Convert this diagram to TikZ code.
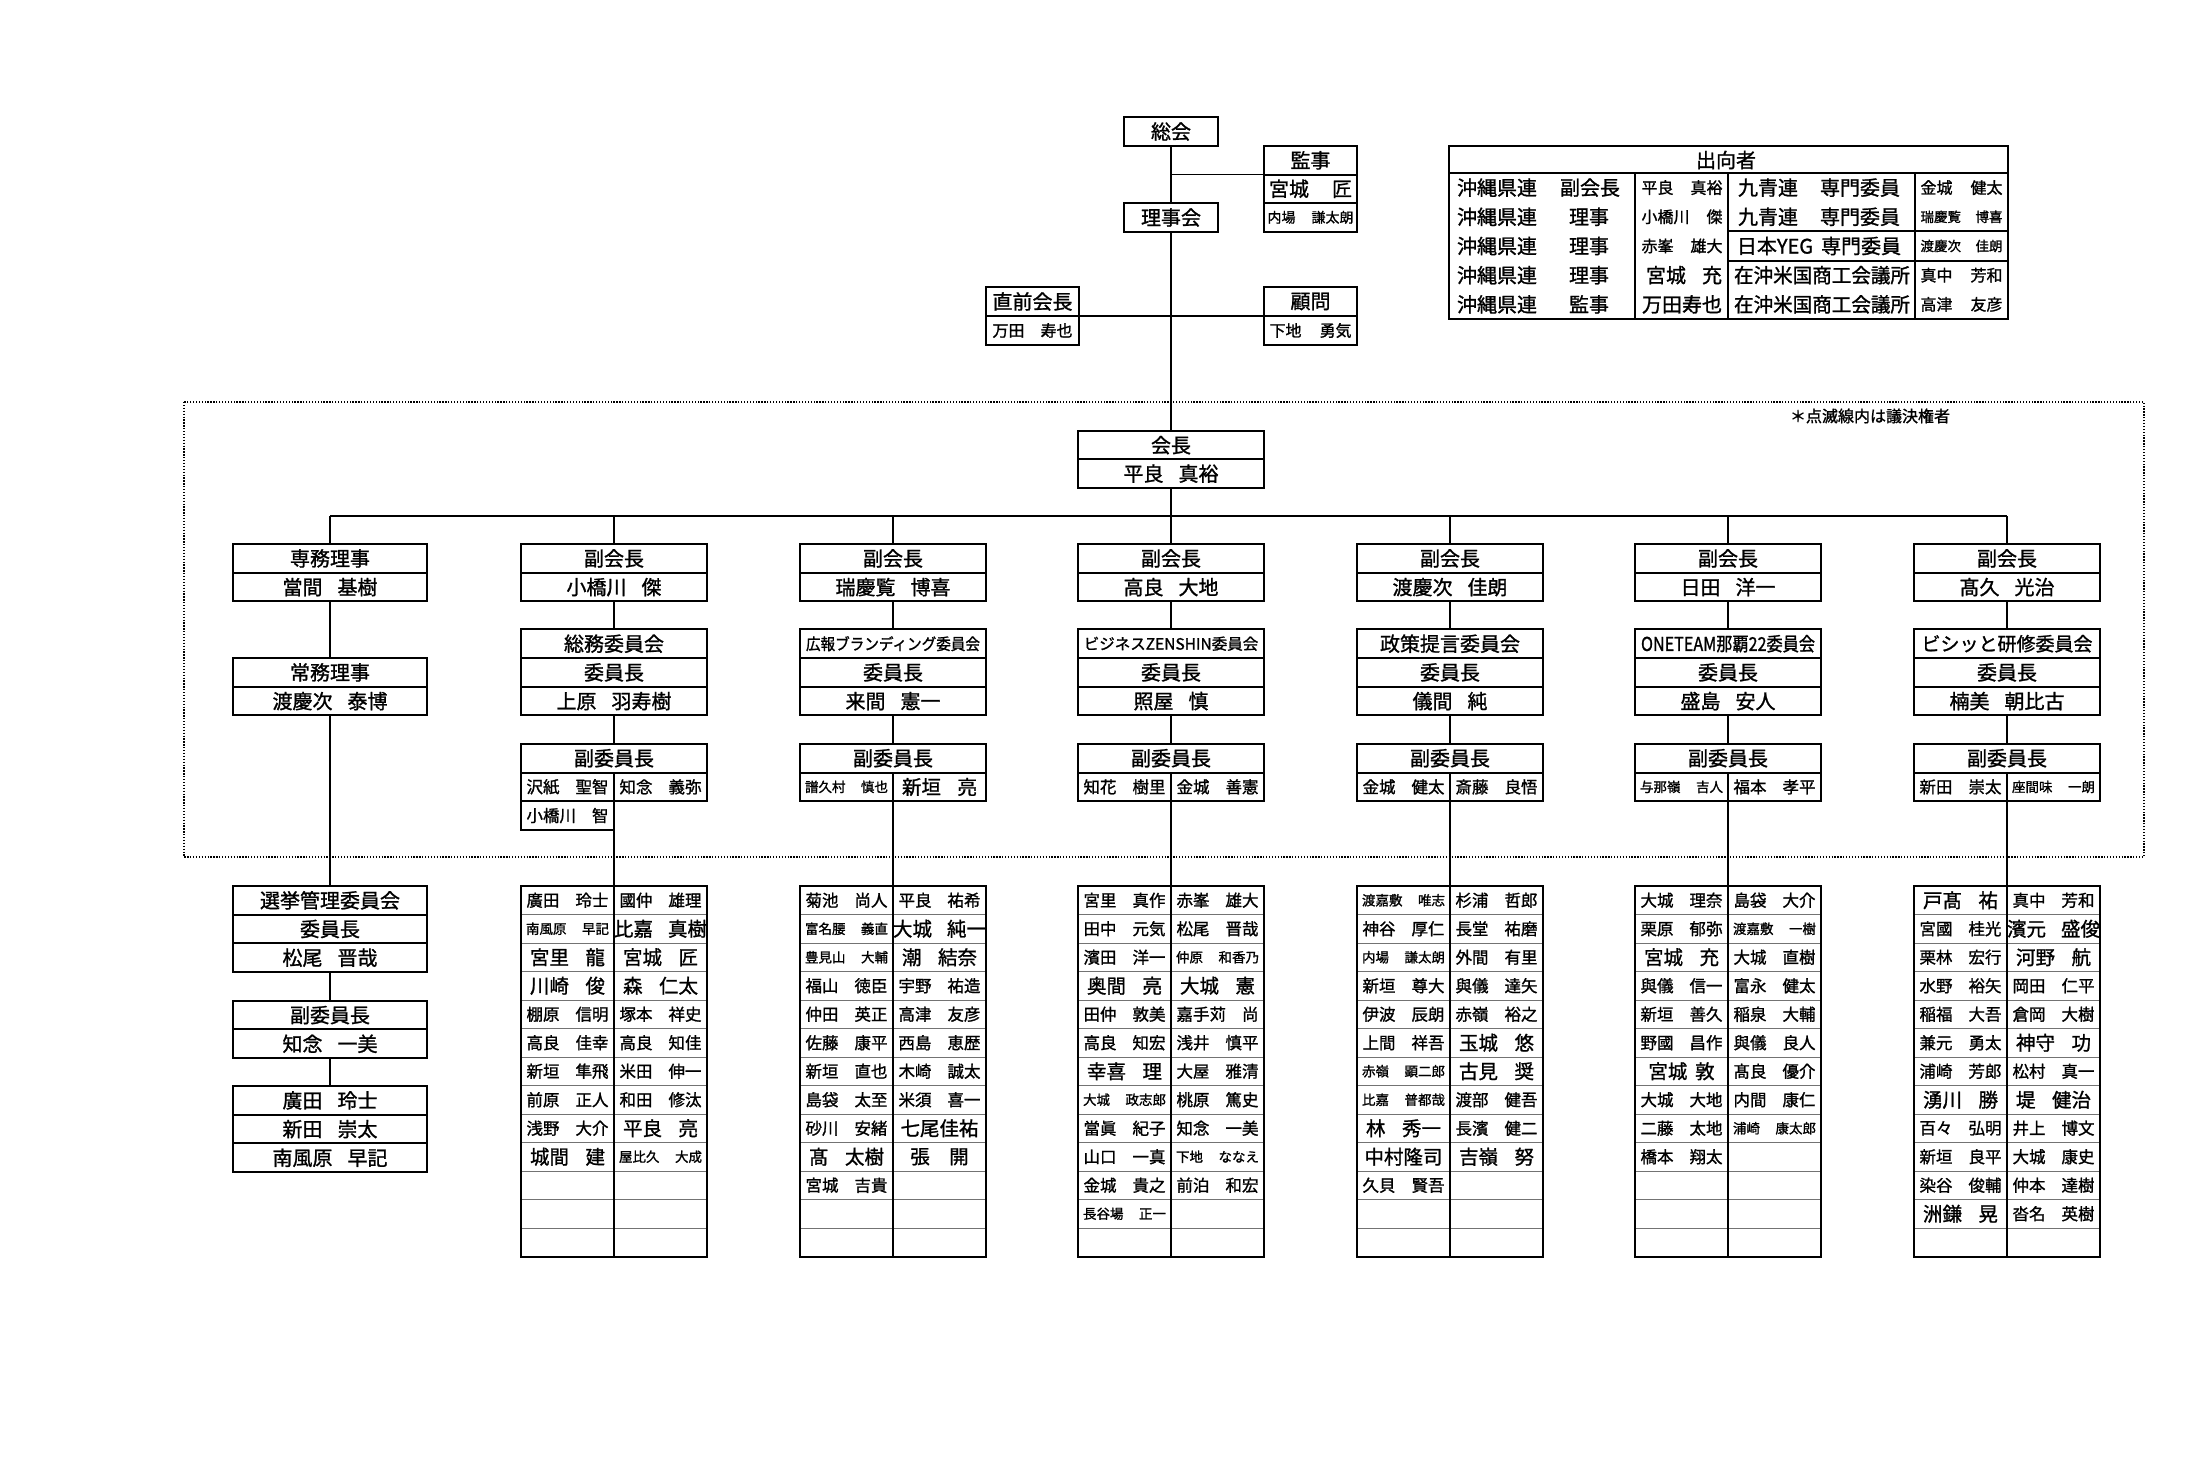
\documentclass[tikz,border=0pt]{standalone}
\usepackage{fontspec}
\setmainfont{Noto Sans CJK JP}[RawFeature={embolden=1.2}]
\usepackage{graphicx}
\newcommand\fsz[1]{\fontsize{#1}{#1}\selectfont}
\newlength\fitl
\newcommand\fitto[2]{\settowidth\fitl{#2}\ifdim\fitl>#1\relax\pgfmathsetmacro\fitr{#1/\fitl}\scalebox{\fitr}[1]{#2}\else #2\fi}
\newcommand\jsp{\hspace{0.75em}}
\newcommand\mS[2]{{\fsz{13.5}\makebox[83pt]{#1\hfill#2}}}
\newcommand\mN[2]{{\fsz{16.5}\makebox[82pt]{#1\hfill#2}}}
\newcommand\mL[2]{{\fsz{19.5}\makebox[75pt]{#1\hfill#2}}}
\newcommand\mX[2]{{\fsz{19.5}\makebox[93pt]{#1\hfill#2}}}
\newcommand\mC[1]{{\fsz{19.5}#1}}
\tikzset{
 bx/.style={draw, line width=2pt, minimum height=28.7pt, inner sep=0pt, outer sep=0pt, font=\fsz{20}},
 w186/.style={minimum width=186pt},
 w93/.style={minimum width=93pt},
 w194/.style={minimum width=194pt},
 conn/.style={line width=1.7pt},
 mcell/.style={draw=black!55, line width=1pt, minimum width=93pt, minimum height=28.5pt, inner sep=0pt, outer sep=0pt},
 tbl/.style={line width=2pt},
 txt/.style={inner sep=0pt, outer sep=0pt},
}
\newcommand\mtable[2]{%
 \foreach \rr in {1,...,13}{%
   \node[mcell] (m#1-\rr-L) at ({#2-46.5},{886+28.5*(\rr-0.5)}) {};
   \node[mcell] (m#1-\rr-R) at ({#2+46.5},{886+28.5*(\rr-0.5)}) {};
 }
 \draw[tbl] (m#1-1-L.north west) rectangle (m#1-13-R.south east);
 \draw[tbl] (m#1-1-L.north east) -- (m#1-13-L.south east);
}
\newcommand\mt[4]{\node[txt] (t#1-#2-#3) at (m#1-#2-#3) {#4};}
\newcommand\vpcol[7]{%
 \node[bx,w186] (v#1A) at (#2,558.4) {副会長};
 \node[bx,w186] (v#1B) at (#2,587.1) {#3};
 \node[bx,w186] (c#1A) at (#2,643.7) {#4};
 \node[bx,w186] (c#1B) at (#2,672.4) {委員長};
 \node[bx,w186] (c#1C) at (#2,701.1) {#5};
 \node[bx,w186] (d#1A) at (#2,758.2) {副委員長};
 \node[bx,w93] (d#1L) at ({#2-46.5},786.9) {#6};
 \node[bx,w93] (d#1R) at ({#2+46.5},786.9) {#7};
 \draw[conn] (v#1A.north) -- (v#1A.north |- bus);
 \draw[conn] (v#1B.south) -- (c#1A.north);
 \draw[conn] (c#1C.south) -- (d#1A.north);
 \mtable{#1}{#2}
 \draw[conn] (d#1L.south east) -- (m#1-1-L.north east);
}
\begin{document}
\begin{tikzpicture}[x=1pt,y=-1pt]
\fill[white] (0,0) rectangle (2192,1464);
\useasboundingbox (0,0) rectangle (2192,1464);

% ---------- top ----------
\node[bx, minimum width=94pt, minimum height=29pt] (sokai) at (1171,131.5) {総会};
\node[bx, minimum width=94pt, minimum height=29pt] (riji) at (1171,217.5) {理事会};
\node[bx, w93, minimum height=28.5pt] (kanA) at (1310.5,160.3) {監事};
\node[bx, w93, minimum height=28.5pt] (kanB) at (1310.5,188.8) {\makebox[83pt]{宮城\hfill 匠}};
\node[bx, w93, minimum height=28.5pt] (kanC) at (1310.5,217.3) {\fsz{14}\makebox[86pt]{内場\hfill 謙太朗}};
\node[bx, w93, minimum height=29pt] (zenA) at (1032.5,301.5) {直前会長};
\node[bx, w93, minimum height=29pt] (zenB) at (1032.5,330.5) {\fsz{16}\makebox[80pt]{万田\hfill 寿也}};
\node[bx, w93, minimum height=29pt] (komA) at (1310.5,301.5) {顧問};
\node[bx, w93, minimum height=29pt] (komB) at (1310.5,330.5) {\fsz{16}\makebox[82pt]{下地\hfill 勇気}};
\draw[conn] (sokai.south) -- (riji.north);
\draw[conn] (kanA.south west) -- (kanA.south west -| sokai.south);
\draw[conn] (zenA.south east) -- (komA.south west);

% ---------- 出向者 ----------
\draw[tbl] (1449,146) rectangle (2008,319);
\draw[tbl] (1449,173) -- (2008,173);
\draw[tbl] (1635,173) -- (1635,319);
\draw[tbl] (1728,173) -- (1728,319);
\draw[tbl] (1915,173) -- (1915,319);
\draw[tbl] (1728,231.4) -- (2008,231.4);
\draw[tbl] (1728,260.6) -- (2008,260.6);
\node[txt] (shk) at (1726,160) {\fsz{20}出向者};
\foreach \rr/\yy in {1/187.6,2/216.8,3/246.0,4/275.2,5/304.4}{
  \node[txt, anchor=west] (ok\rr) at (1457,\yy) {\fsz{20}沖縄県連};
}
\node[txt] (ro1) at (1590,187.6) {\fsz{20}副会長};
\node[txt] (ro2) at (1589,216.8) {\fsz{20}理事};
\node[txt] (ro3) at (1589,246.0) {\fsz{20}理事};
\node[txt] (ro4) at (1589,275.2) {\fsz{20}理事};
\node[txt] (ro5) at (1589,304.4) {\fsz{20}監事};
\node[txt] (sn1) at (1682,187.6) {\fsz{16}\makebox[81pt]{平良\hfill 真裕}};
\node[txt] (sn2) at (1682,216.8) {\fsz{16}\makebox[81pt]{小橋川\hfill 傑}};
\node[txt] (sn3) at (1682,246.0) {\fsz{16}\makebox[81pt]{赤峯\hfill 雄大}};
\node[txt] (sn4) at (1684,275.2) {\fsz{20}\makebox[76pt]{宮城\hfill 充}};
\node[txt] (sn5) at (1682,304.4) {\fsz{20}万田寿也};
\node[txt] (so1) at (1819,187.6) {\fsz{20}\fitto{166pt}{九青連\hspace{1.1em}専門委員}};
\node[txt] (so2) at (1819,216.8) {\fsz{20}\fitto{166pt}{九青連\hspace{1.1em}専門委員}};
\node[txt] (so3) at (1819,246.0) {\fsz{20}\fitto{168pt}{日本YEG\hspace{0.4em}専門委員}};
\node[txt] (so4) at (1822,275.2) {\fsz{20}\fitto{176pt}{在沖米国商工会議所}};
\node[txt] (so5) at (1822,304.4) {\fsz{20}\fitto{176pt}{在沖米国商工会議所}};
\node[txt] (sp1) at (1961.5,187.6) {\fsz{16}\makebox[82pt]{金城\hfill 健太}};
\node[txt] (sp2) at (1961.5,216.8) {\fsz{13.5}\makebox[82pt]{瑞慶覧\hfill 博喜}};
\node[txt] (sp3) at (1961.5,246.0) {\fsz{13.5}\makebox[82pt]{渡慶次\hfill 佳朗}};
\node[txt] (sp4) at (1961.5,275.2) {\fsz{16}\makebox[82pt]{真中\hfill 芳和}};
\node[txt] (sp5) at (1961.5,304.4) {\fsz{16}\makebox[82pt]{高津\hfill 友彦}};

% ---------- dotted frame ----------
\draw[line width=1.2pt, dash pattern=on 1.3pt off 1.6pt] (184,402) rectangle (2144,857);
\node[txt] (note) at (1870,416) {\fsz{16}\fitto{171pt}{＊点滅線内は議決権者}};

% ---------- 会長 ----------
\node[bx, w186, minimum height=28.4pt] (kaiA) at (1171,445.2) {会長};
\node[bx, w186, minimum height=28.4pt] (kaiB) at (1171,473.6) {平良\jsp 真裕};
\coordinate (bus) at (1171,516);
\draw[conn] (riji.south) -- (kaiA.north);
\draw[conn] (kaiB.south) -- (bus);

% ---------- column 0 ----------
\node[bx,w194] (v0A) at (330,558.4) {専務理事};
\node[bx,w194] (v0B) at (330,587.1) {當間\jsp 基樹};
\node[bx,w194] (j0A) at (330,672.4) {常務理事};
\node[bx,w194] (j0B) at (330,701.1) {渡慶次\jsp 泰博};
\node[bx,w194] (e0A) at (330,900.3) {選挙管理委員会};
\node[bx,w194] (e0B) at (330,929.0) {委員長};
\node[bx,w194] (e0C) at (330,957.7) {松尾\jsp 晋哉};
\node[bx,w194] (f0A) at (330,1015.1) {副委員長};
\node[bx,w194] (f0B) at (330,1043.8) {知念\jsp 一美};
\node[bx,w194] (g1) at (330,1100.4) {廣田\jsp 玲士};
\node[bx,w194] (g2) at (330,1129.1) {新田\jsp 崇太};
\node[bx,w194] (g3) at (330,1157.8) {南風原\jsp 早記};
\draw[conn] (v0A.north) -- (v0A.north |- bus);
\draw[conn] (v0B.south) -- (j0A.north);
\draw[conn] (j0B.south) -- (e0A.north);
\draw[conn] (e0C.south) -- (f0A.north);
\draw[conn] (f0B.south) -- (g1.north);

% ---------- columns 1-6 ----------
\vpcol{1}{614}{小橋川\jsp 傑}{総務委員会}{上原\jsp 羽寿樹}{\mN{沢紙}{聖智}}{\mN{知念}{義弥}}
\node[bx,w93] (d1X) at (567.5,815.6) {\mN{小橋川}{智}};
\vpcol{2}{893}{瑞慶覧\jsp 博喜}{\fsz{16}\fitto{174pt}{広報ブランディング委員会}}{来間\jsp 憲一}{\mS{譜久村}{慎也}}{\mL{新垣}{亮}}
\vpcol{3}{1171}{高良\jsp 大地}{\fsz{15.5}\fitto{176pt}{ビジネスZENSHIN委員会}}{照屋\jsp 慎}{\mN{知花}{樹里}}{\mN{金城}{善憲}}
\vpcol{4}{1450}{渡慶次\jsp 佳朗}{政策提言委員会}{儀間\jsp 純}{\mN{金城}{健太}}{\mN{斎藤}{良悟}}
\vpcol{5}{1728}{日田\jsp 洋一}{\fsz{19}\fitto{174pt}{ONETEAM那覇22委員会}}{盛島\jsp 安人}{\mS{与那嶺}{吉人}}{\mN{福本}{孝平}}
\vpcol{6}{2007}{髙久\jsp 光治}{\fsz{19}ビシッと研修委員会}{楠美\jsp 朝比古}{\mN{新田}{崇太}}{\mS{座間味}{一朗}}
\draw[conn] (v0A.north |- bus) -- (v6A.north |- bus);

% ---------- members col 1 ----------
\mt{1}{1}{L}{\mN{廣田}{玲士}}   \mt{1}{1}{R}{\mN{國仲}{雄理}}
\mt{1}{2}{L}{\mS{南風原}{早記}} \mt{1}{2}{R}{\mX{比嘉}{真樹}}
\mt{1}{3}{L}{\mL{宮里}{龍}}     \mt{1}{3}{R}{\mL{宮城}{匠}}
\mt{1}{4}{L}{\mL{川崎}{俊}}     \mt{1}{4}{R}{\mL{森}{仁太}}
\mt{1}{5}{L}{\mN{棚原}{信明}}   \mt{1}{5}{R}{\mN{塚本}{祥史}}
\mt{1}{6}{L}{\mN{高良}{佳幸}}   \mt{1}{6}{R}{\mN{高良}{知佳}}
\mt{1}{7}{L}{\mN{新垣}{隼飛}}   \mt{1}{7}{R}{\mN{米田}{伸一}}
\mt{1}{8}{L}{\mN{前原}{正人}}   \mt{1}{8}{R}{\mN{和田}{修汰}}
\mt{1}{9}{L}{\mN{浅野}{大介}}   \mt{1}{9}{R}{\mL{平良}{亮}}
\mt{1}{10}{L}{\mL{城間}{建}}    \mt{1}{10}{R}{\mS{屋比久}{大成}}
% ---------- members col 2 ----------
\mt{2}{1}{L}{\mN{菊池}{尚人}}   \mt{2}{1}{R}{\mN{平良}{祐希}}
\mt{2}{2}{L}{\mS{富名腰}{義直}} \mt{2}{2}{R}{\mX{大城}{純一}}
\mt{2}{3}{L}{\mS{豊見山}{大輔}} \mt{2}{3}{R}{\mL{潮}{結奈}}
\mt{2}{4}{L}{\mN{福山}{徳臣}}   \mt{2}{4}{R}{\mN{宇野}{祐造}}
\mt{2}{5}{L}{\mN{仲田}{英正}}   \mt{2}{5}{R}{\mN{高津}{友彦}}
\mt{2}{6}{L}{\mN{佐藤}{康平}}   \mt{2}{6}{R}{\mN{西島}{恵歴}}
\mt{2}{7}{L}{\mN{新垣}{直也}}   \mt{2}{7}{R}{\mN{木崎}{誠太}}
\mt{2}{8}{L}{\mN{島袋}{太至}}   \mt{2}{8}{R}{\mN{米須}{喜一}}
\mt{2}{9}{L}{\mN{砂川}{安緒}}   \mt{2}{9}{R}{\mC{七尾佳祐}}
\mt{2}{10}{L}{\mL{髙}{太樹}}    \mt{2}{10}{R}{\mC{張\hspace{1em}開}}
\mt{2}{11}{L}{\mN{宮城}{吉貴}}
% ---------- members col 3 ----------
\mt{3}{1}{L}{\mN{宮里}{真作}}   \mt{3}{1}{R}{\mN{赤峯}{雄大}}
\mt{3}{2}{L}{\mN{田中}{元気}}   \mt{3}{2}{R}{\mN{松尾}{晋哉}}
\mt{3}{3}{L}{\mN{濱田}{洋一}}   \mt{3}{3}{R}{\mS{仲原}{和香乃}}
\mt{3}{4}{L}{\mL{奥間}{亮}}     \mt{3}{4}{R}{\mL{大城}{憲}}
\mt{3}{5}{L}{\mN{田仲}{敦美}}   \mt{3}{5}{R}{\mN{嘉手苅}{尚}}
\mt{3}{6}{L}{\mN{高良}{知宏}}   \mt{3}{6}{R}{\mN{浅井}{慎平}}
\mt{3}{7}{L}{\mL{幸喜}{理}}     \mt{3}{7}{R}{\mN{大屋}{雅清}}
\mt{3}{8}{L}{\mS{大城}{政志郎}} \mt{3}{8}{R}{\mN{桃原}{篤史}}
\mt{3}{9}{L}{\mN{當眞}{紀子}}   \mt{3}{9}{R}{\mN{知念}{一美}}
\mt{3}{10}{L}{\mN{山口}{一真}}  \mt{3}{10}{R}{\mS{下地}{ななえ}}
\mt{3}{11}{L}{\mN{金城}{貴之}}  \mt{3}{11}{R}{\mN{前泊}{和宏}}
\mt{3}{12}{L}{\mS{長谷場}{正一}}
% ---------- members col 4 ----------
\mt{4}{1}{L}{\mS{渡嘉敷}{唯志}} \mt{4}{1}{R}{\mN{杉浦}{哲郎}}
\mt{4}{2}{L}{\mN{神谷}{厚仁}}   \mt{4}{2}{R}{\mN{長堂}{祐磨}}
\mt{4}{3}{L}{\mS{内場}{謙太朗}} \mt{4}{3}{R}{\mN{外間}{有里}}
\mt{4}{4}{L}{\mN{新垣}{尊大}}   \mt{4}{4}{R}{\mN{與儀}{達矢}}
\mt{4}{5}{L}{\mN{伊波}{辰朗}}   \mt{4}{5}{R}{\mN{赤嶺}{裕之}}
\mt{4}{6}{L}{\mN{上間}{祥吾}}   \mt{4}{6}{R}{\mL{玉城}{悠}}
\mt{4}{7}{L}{\mS{赤嶺}{顕二郎}} \mt{4}{7}{R}{\mL{古見}{奨}}
\mt{4}{8}{L}{\mS{比嘉}{普都哉}} \mt{4}{8}{R}{\mN{渡部}{健吾}}
\mt{4}{9}{L}{\mL{林}{秀一}}     \mt{4}{9}{R}{\mN{長濱}{健二}}
\mt{4}{10}{L}{\mC{中村隆司}}    \mt{4}{10}{R}{\mL{吉嶺}{努}}
\mt{4}{11}{L}{\mN{久貝}{賢吾}}
% ---------- members col 5 ----------
\mt{5}{1}{L}{\mN{大城}{理奈}}   \mt{5}{1}{R}{\mN{島袋}{大介}}
\mt{5}{2}{L}{\mN{栗原}{郁弥}}   \mt{5}{2}{R}{\mS{渡嘉敷}{一樹}}
\mt{5}{3}{L}{\mL{宮城}{充}}     \mt{5}{3}{R}{\mN{大城}{直樹}}
\mt{5}{4}{L}{\mN{與儀}{信一}}   \mt{5}{4}{R}{\mN{富永}{健太}}
\mt{5}{5}{L}{\mN{新垣}{善久}}   \mt{5}{5}{R}{\mN{稲泉}{大輔}}
\mt{5}{6}{L}{\mN{野國}{昌作}}   \mt{5}{6}{R}{\mN{與儀}{良人}}
\mt{5}{7}{L}{\mC{宮城\hspace{0.4em}敦}} \mt{5}{7}{R}{\mN{髙良}{優介}}
\mt{5}{8}{L}{\mN{大城}{大地}}   \mt{5}{8}{R}{\mN{内間}{康仁}}
\mt{5}{9}{L}{\mN{二藤}{太地}}   \mt{5}{9}{R}{\mS{浦崎}{康太郎}}
\mt{5}{10}{L}{\mN{橋本}{翔太}}
% ---------- members col 6 ----------
\mt{6}{1}{L}{\mL{戸髙}{祐}}     \mt{6}{1}{R}{\mN{真中}{芳和}}
\mt{6}{2}{L}{\mN{宮國}{桂光}}   \mt{6}{2}{R}{\mX{濱元}{盛俊}}
\mt{6}{3}{L}{\mN{栗林}{宏行}}   \mt{6}{3}{R}{\mL{河野}{航}}
\mt{6}{4}{L}{\mN{水野}{裕矢}}   \mt{6}{4}{R}{\mN{岡田}{仁平}}
\mt{6}{5}{L}{\mN{稲福}{大吾}}   \mt{6}{5}{R}{\mN{倉岡}{大樹}}
\mt{6}{6}{L}{\mN{兼元}{勇太}}   \mt{6}{6}{R}{\mL{神守}{功}}
\mt{6}{7}{L}{\mN{浦崎}{芳郎}}   \mt{6}{7}{R}{\mN{松村}{真一}}
\mt{6}{8}{L}{\mL{湧川}{勝}}     \mt{6}{8}{R}{\mL{堤}{健治}}
\mt{6}{9}{L}{\mN{百々}{弘明}}   \mt{6}{9}{R}{\mN{井上}{博文}}
\mt{6}{10}{L}{\mN{新垣}{良平}}  \mt{6}{10}{R}{\mN{大城}{康史}}
\mt{6}{11}{L}{\mN{染谷}{俊輔}}  \mt{6}{11}{R}{\mN{仲本}{達樹}}
\mt{6}{12}{L}{\mL{洲鎌}{晃}}    \mt{6}{12}{R}{\mN{沓名}{英樹}}
\end{tikzpicture}
\end{document}
